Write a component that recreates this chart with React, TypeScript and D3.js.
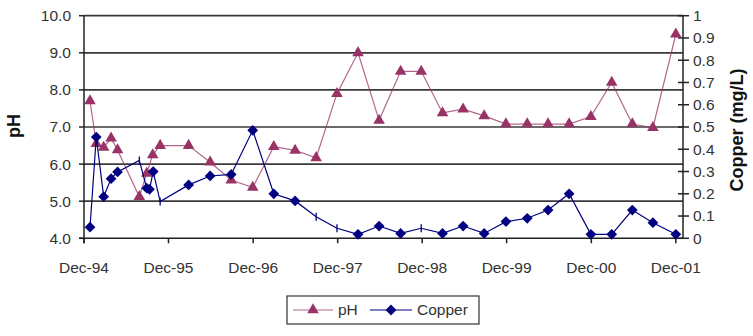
import React from "react";
import * as d3 from "d3";

const phDates = [
  "1994-12-27", "1995-01-23", "1995-02-24", "1995-03-28", "1995-04-25",
  "1995-07-28", "1995-08-29", "1995-09-24", "1995-10-26", "1996-02-26",
  "1996-05-29", "1996-08-28", "1996-11-29", "1997-02-28", "1997-05-31",
  "1997-08-30", "1997-11-28", "1998-02-27", "1998-05-29", "1998-08-30",
  "1998-11-27", "1999-02-27", "1999-05-27", "1999-08-26", "1999-11-28",
  "2000-02-28", "2000-05-28", "2000-08-27", "2000-11-29", "2001-02-27",
  "2001-05-27", "2001-08-24", "2001-12-01",
];
const phValues = [
  7.7, 6.55, 6.45, 6.7, 6.38, 5.12, 5.75, 6.25, 6.5, 6.5,
  6.05, 5.57, 5.37, 6.47, 6.37, 6.17, 7.9, 9.0, 7.18, 8.5,
  8.5, 7.38, 7.48, 7.3, 7.08, 7.08, 7.08, 7.08, 7.28, 8.2,
  7.08, 6.98, 9.5,
];

const cuDates = [
  "1994-12-27", "1995-01-23", "1995-02-24", "1995-03-28", "1995-04-25",
  "1995-07-28", "1995-08-29", "1995-09-10", "1995-09-26", "1995-10-26",
  "1996-02-26", "1996-05-29", "1996-08-28", "1996-11-29", "1997-02-28",
  "1997-05-31", "1997-08-30", "1997-11-28", "1998-02-27", "1998-05-29",
  "1998-08-30", "1998-11-27", "1999-02-27", "1999-05-27", "1999-08-26",
  "1999-11-28", "2000-02-28", "2000-05-28", "2000-08-27", "2000-11-29",
  "2001-02-27", "2001-05-27", "2001-08-24", "2001-12-01",
];
const cuValues = [
  0.05, 0.455, 0.187, 0.268, 0.298, 0.35, 0.225, 0.22, 0.3, 0.165,
  0.24, 0.28, 0.287, 0.485, 0.2, 0.168, 0.097, 0.045, 0.018, 0.055,
  0.022, 0.045, 0.022, 0.055, 0.022, 0.075, 0.09, 0.127, 0.2, 0.018,
  0.018, 0.127, 0.07, 0.018,
];
// points drawn with a small bar instead of a diamond
const cuBarIdx = [5, 9, 16, 17, 21];

const xTickDates = ["1994-12-01", "1995-12-01", "1996-12-01", "1997-12-01", "1998-12-01", "1999-12-01", "2000-12-01", "2001-12-01"];
const phTicks = [4, 5, 6, 7, 8, 9, 10];
const cuTicks = [0, 0.1, 0.2, 0.3, 0.4, 0.5, 0.6, 0.7, 0.8, 0.9, 1];

const W = 753;
const H = 336;
const FONT = "'Liberation Sans', Arial, sans-serif";
const PH_COLOR = "#993366";
const CU_COLOR = "#000080";
const TEXT = "#333";

const parse = d3.timeParse("%Y-%m-%d");

export default function App() {
  const left = 84;
  const right = 683;
  const top = 15.7;
  const bottom = 238.3;

  const x = d3.scaleTime().domain([parse("1994-12-01")!, parse("2002-01-01")!]).range([left, right]);
  const yPh = d3.scaleLinear().domain([4, 10]).range([bottom, top]);
  const yCu = d3.scaleLinear().domain([0, 1]).range([bottom, top]);

  const phData = phDates.map((d, i) => ({ x: x(parse(d)!), y: yPh(phValues[i]) }));
  const cuData = cuDates.map((d, i) => ({ x: x(parse(d)!), y: yCu(cuValues[i]) }));

  const line = d3.line<{ x: number; y: number }>().x((d) => d.x).y((d) => d.y);
  const tri = d3.symbol().type(d3.symbolTriangle).size(58)()!;
  const dia = d3.symbol().type(d3.symbolSquare).size(58)()!;
  const fmt = d3.timeFormat("%b-%y");

  const legY = 310;

  return (
    <svg width={W} height={H} style={{ position: "absolute", left: 0, top: 0, background: "#fff" }} fontFamily={FONT}>
      {/* gridlines */}
      {phTicks.filter((t) => t > 4).map((t) => (
        <line key={"g" + t} x1={left} x2={right} y1={yPh(t)} y2={yPh(t)} stroke="#3a3a3a" strokeWidth={1.7} />
      ))}
      {/* axes */}
      <line x1={left} x2={left} y1={top} y2={bottom + 5} stroke="#222" strokeWidth={1.5} />
      <line x1={right} x2={right} y1={top} y2={bottom} stroke="#222" strokeWidth={1.5} />
      <line x1={left - 5} x2={right} y1={bottom} y2={bottom} stroke="#222" strokeWidth={1.5} />
      {/* left ticks */}
      {phTicks.map((t) => (
        <g key={"l" + t}>
          <line x1={left - 5} x2={left} y1={yPh(t)} y2={yPh(t)} stroke="#222" strokeWidth={1.5} />
          <text x={71} y={yPh(t)} dy="0.35em" textAnchor="end" fontSize={15.5} fill={TEXT}>
            {t.toFixed(1)}
          </text>
        </g>
      ))}
      {/* right ticks */}
      {cuTicks.map((t) => (
        <g key={"r" + t}>
          <line x1={right - 5} x2={right + 6} y1={yCu(t)} y2={yCu(t)} stroke="#222" strokeWidth={1.5} />
          <text x={693} y={yCu(t)} dy="0.35em" textAnchor="start" fontSize={15.5} fill={TEXT}>
            {String(t)}
          </text>
        </g>
      ))}
      {/* x ticks */}
      {xTickDates.map((d) => {
        const xx = x(parse(d)!);
        return (
          <g key={d}>
            <line x1={xx} x2={xx} y1={bottom} y2={bottom + 5} stroke="#222" strokeWidth={1.5} />
            <text x={xx} y={273} textAnchor="middle" fontSize={15.5} fill={TEXT}>
              {fmt(parse(d)!)}
            </text>
          </g>
        );
      })}
      {/* axis titles */}
      <text transform="translate(20,126) rotate(-90)" textAnchor="middle" fontSize={18} fontWeight="bold" fill="#111">
        pH
      </text>
      <text transform="translate(743,130) rotate(-90)" textAnchor="middle" fontSize={18} fontWeight="bold" fill="#111">
        Copper (mg/L)
      </text>
      {/* pH series */}
      <path d={line(phData)!} fill="none" stroke={PH_COLOR} strokeOpacity={0.75} strokeWidth={1.2} />
      {phData.map((p, i) => (
        <path key={"pt" + i} d={tri} transform={`translate(${p.x},${p.y})`} fill={PH_COLOR} />
      ))}
      {/* Copper series */}
      <path d={line(cuData)!} fill="none" stroke={CU_COLOR} strokeWidth={1.2} />
      {cuData.map((p, i) =>
        cuBarIdx.includes(i) ? (
          <line key={"cb" + i} x1={p.x} x2={p.x} y1={p.y - 4} y2={p.y + 4} stroke={CU_COLOR} strokeWidth={1.3} />
        ) : (
          <path key={"cd" + i} d={dia} transform={`translate(${p.x},${p.y}) rotate(45)`} fill={CU_COLOR} />
        )
      )}
      {/* legend */}
      <rect x={287} y={296} width={192} height={28} fill="#fff" stroke="#333" strokeWidth={1.2} />
      <line x1={293} x2={333} y1={legY} y2={legY} stroke={PH_COLOR} strokeOpacity={0.75} strokeWidth={1.2} />
      <path d={tri} transform={`translate(313,${legY})`} fill={PH_COLOR} />
      <text x={338} y={legY} dy="0.35em" fontSize={15.5} fill={TEXT}>pH</text>
      <line x1={370} x2={412} y1={legY} y2={legY} stroke={CU_COLOR} strokeWidth={1.2} />
      <path d={dia} transform={`translate(391,${legY}) rotate(45)`} fill={CU_COLOR} />
      <text x={417} y={legY} dy="0.35em" fontSize={15.5} fill={TEXT}>Copper</text>
    </svg>
  );
}
